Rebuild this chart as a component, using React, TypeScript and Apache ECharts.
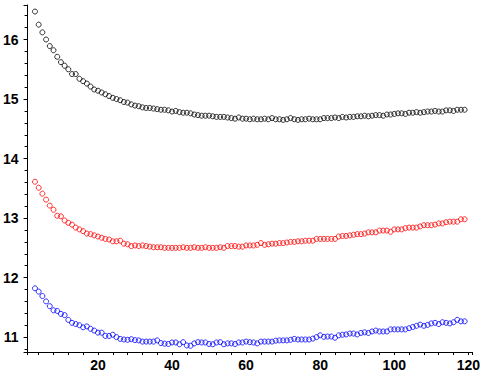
import React, { useEffect, useRef } from "react";
import * as echarts from "echarts";

const xStart = 3;

const blackValues = [
  16.47, 16.25, 16.12, 16.0, 15.89, 15.82, 15.71, 15.62, 15.56, 15.5,
  15.42, 15.42, 15.34, 15.3, 15.26, 15.21, 15.16, 15.14, 15.11, 15.08,
  15.05, 15.02, 15.0, 14.98, 14.95, 14.94, 14.91, 14.89, 14.88, 14.86,
  14.85, 14.85, 14.84, 14.83, 14.82, 14.82, 14.81, 14.79, 14.8, 14.78,
  14.77, 14.77, 14.76, 14.74, 14.73, 14.72, 14.72, 14.72, 14.71, 14.7,
  14.7, 14.7, 14.69, 14.68, 14.67, 14.69, 14.67, 14.67, 14.66, 14.67,
  14.66, 14.66, 14.67, 14.66, 14.68, 14.66, 14.66, 14.65, 14.66, 14.68,
  14.66, 14.65, 14.66, 14.66, 14.67, 14.66, 14.66, 14.66, 14.68, 14.68,
  14.68, 14.69, 14.68, 14.7, 14.69, 14.7, 14.7, 14.71, 14.71, 14.72,
  14.71, 14.72, 14.73, 14.73, 14.72, 14.74, 14.74, 14.75, 14.76, 14.76,
  14.75, 14.77, 14.77, 14.78, 14.77, 14.78, 14.79, 14.79, 14.8, 14.79,
  14.79, 14.81, 14.81, 14.8, 14.82, 14.82, 14.82,
];

const redValues = [
  13.61, 13.51, 13.41, 13.31, 13.21, 13.14, 13.04, 13.03, 12.96, 12.92,
  12.89, 12.84, 12.81, 12.78, 12.74, 12.73, 12.71, 12.69, 12.67, 12.65,
  12.64, 12.61, 12.61, 12.62, 12.57, 12.56, 12.53, 12.54, 12.53, 12.54,
  12.53, 12.52, 12.51, 12.51, 12.51, 12.5, 12.5, 12.5, 12.5, 12.5,
  12.51, 12.5, 12.5, 12.51, 12.5, 12.5, 12.51, 12.5, 12.5, 12.5,
  12.51, 12.5, 12.53, 12.53, 12.53, 12.52, 12.52, 12.54, 12.54, 12.54,
  12.55, 12.58, 12.55, 12.56, 12.57, 12.57, 12.58, 12.58, 12.59, 12.6,
  12.6, 12.61, 12.61, 12.62, 12.62, 12.62, 12.65, 12.65, 12.65, 12.65,
  12.65, 12.65, 12.69, 12.7, 12.7, 12.71, 12.72, 12.73, 12.73, 12.74,
  12.76, 12.76, 12.76, 12.79, 12.79, 12.79, 12.77, 12.81, 12.81, 12.81,
  12.83, 12.84, 12.84, 12.84, 12.86, 12.88, 12.88, 12.88, 12.89, 12.91,
  12.91, 12.93, 12.94, 12.94, 12.94, 12.98, 12.98,
];

const blueValues = [
  11.82, 11.765, 11.69, 11.6, 11.52, 11.45, 11.44, 11.39, 11.37, 11.29,
  11.24, 11.22, 11.2, 11.165, 11.18, 11.14, 11.11, 11.075, 11.075, 11.02,
  11.02, 11.04, 11.0, 10.97, 10.96, 10.955, 10.965, 10.95, 10.945, 10.925,
  10.925, 10.925, 10.925, 10.945, 10.9, 10.89, 10.885, 10.91, 10.91, 10.88,
  10.915, 10.86, 10.855, 10.895, 10.915, 10.91, 10.91, 10.885, 10.88, 10.91,
  10.915, 10.88, 10.895, 10.895, 10.885, 10.91, 10.91, 10.925, 10.915, 10.91,
  10.895, 10.925, 10.925, 10.925, 10.925, 10.94, 10.945, 10.945, 10.945, 10.955,
  10.97, 10.96, 10.96, 10.96, 10.96, 10.975, 11.0, 11.03, 11.005, 11.01,
  11.01, 10.99, 11.03, 11.04, 11.045, 11.06, 11.06, 11.045, 11.07, 11.08,
  11.07, 11.095, 11.11, 11.095, 11.095, 11.095, 11.13, 11.13, 11.13, 11.13,
  11.13, 11.15, 11.17, 11.19, 11.21, 11.19, 11.205, 11.23, 11.24, 11.22,
  11.25, 11.24, 11.23, 11.25, 11.29, 11.265, 11.265,
];

const xTickLabels = [20, 40, 60, 80, 100, 120];
const yTickLabels = [11, 12, 13, 14, 15, 16];

const seriesDefs = [
  { name: "black", color: "#000000", values: blackValues },
  { name: "red", color: "#ff0000", values: redValues },
  { name: "blue", color: "#0000ff", values: blueValues },
];

const labelFont = {
  color: "#000",
  fontWeight: "bold" as const,
  fontSize: 14,
  fontFamily: "'Liberation Sans Narrow', 'Liberation Sans', Arial, sans-serif",
};

export default function App() {
  const ref = useRef<HTMLDivElement>(null);
  useEffect(() => {
    if (!ref.current) return;
    const chart = echarts.init(ref.current, undefined, { renderer: "svg" });
    chart.setOption({
      animation: false,
      backgroundColor: "#ffffff",
      grid: { left: 23, right: 10, top: 5, bottom: 20, containLabel: false },
      xAxis: {
        type: "value",
        min: 1,
        max: 121,
        minInterval: 20,
        maxInterval: 20,
        axisLine: { show: true, lineStyle: { color: "#000", width: 1 } },
        axisTick: { show: true, length: 3, lineStyle: { color: "#000" } },
        minorTick: { show: true, splitNumber: 5, length: 3, lineStyle: { color: "#000" } },
        splitLine: { show: false },
        axisLabel: {
          ...labelFont,
          margin: 6,
          showMinLabel: false,
          showMaxLabel: false,
          formatter: (v: number) => (xTickLabels.includes(v) ? String(v) : ""),
        },
      },
      yAxis: {
        type: "value",
        min: 10.75,
        max: 16.58,
        minInterval: 1,
        maxInterval: 1,
        axisLine: { show: true, lineStyle: { color: "#000", width: 1 } },
        axisTick: { show: true, length: 4, lineStyle: { color: "#000" } },
        minorTick: { show: true, splitNumber: 5, length: 3, lineStyle: { color: "#000" } },
        splitLine: { show: false },
        axisLabel: {
          ...labelFont,
          margin: 9,
          showMinLabel: false,
          showMaxLabel: false,
          formatter: (v: number) => (yTickLabels.includes(v) ? String(v) : ""),
        },
      },
      series: seriesDefs.map((s) => ({
        name: s.name,
        type: "scatter",
        symbol: "circle",
        symbolSize: 5,
        itemStyle: { color: "rgba(0,0,0,0)", borderColor: s.color, borderWidth: 1 },
        data: s.values.map((v, i) => [xStart + i, v]),
      })),
    });
    return () => chart.dispose();
  }, []);
  return (
    <div
      ref={ref}
      style={{ position: "absolute", left: 0, top: 0, width: 483, height: 372 }}
    />
  );
}
